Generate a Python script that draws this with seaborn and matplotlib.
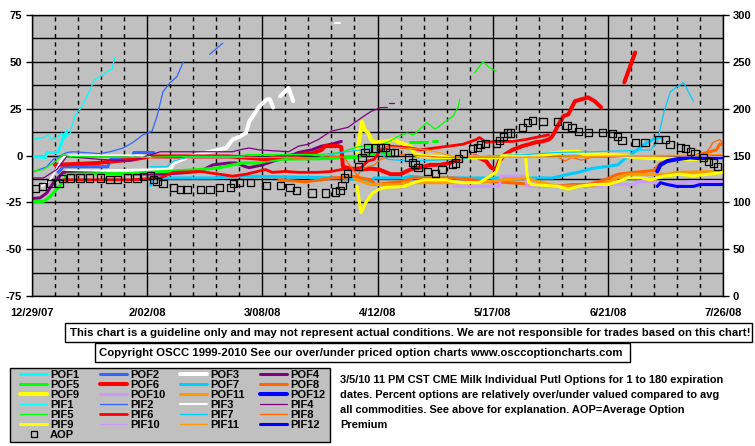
import numpy as np
import pandas as pd
import matplotlib
matplotlib.use("Agg")
import matplotlib.pyplot as plt
import seaborn as sns
from matplotlib.lines import Line2D
from matplotlib.patches import Rectangle

nan = float("nan")

# ---------------- data (x = days since 12/29/07, y = % over/under) ----------------
date_ticks = [0, 35, 70, 105, 140, 175, 210]
date_labels = ["12/29/07", "2/02/08", "3/08/08", "4/12/08", "5/17/08", "6/21/08", "7/26/08"]
left_ticks = [-75, -50, -25, 0, 25, 50, 75]
right_ticks = [0, 50, 100, 150, 200, 250, 300]

POF1_d = [0, 4, 4.6, 7.9, 9.4, 10.6]
POF1_v = [-0.5, -1, 1.6, 1.6, 9, 13]
PIF1_d = [0, 3.5, 5, 6, 8, 9, 10, 11.6, 13, 15.5, 17.6, 19, 20.7, 23, 24.3, 25.2]
PIF1_v = [8.5, 9.6, 11, 8.5, 10, 12, 9, 12, 21, 27, 35, 40.6, 42, 45, 46, 52.4]

POF2_d = [8, 9.5, 23, 24, 30, 31, 37]
POF2_v = [-9, -6, -6, -2, -2, 1.6, 1.6]
PIF2_d = [0, 4.5, 6.5, 10.6, 12.5, 20.7, 23.7, 27.7, 30.7, 33.7, 36.5, 38, 39.8, 42, 44, 46, nan, 54, 58]
PIF2_v = [-9, -6, -2, 1.6, 2, 1, 2, 4, 7, 11, 13, 21, 34, 39, 42, 50, nan, 54, 60]

POF3_d = [10.6, 20, 36, 42, 43, 47, 53, 59, 61, 63, 65, 66, 69, 71.4, 72.3, 73.3, nan, 75.4, 78, 79.4]
POF3_v = [-8.5, -8.5, -8, -7.5, -4, -1, 1.6, 4, 8.5, 10, 12, 18, 26, 30, 30, 25.6, nan, 31.6, 36, 29]
PIF3_d = [3, 5.5, 9.4, 11, 33, 36, nan, 92, 93.5]
PIF3_v = [-16.5, -13, -1, 0, 0, -1, nan, 70.5, 70.5]

POF4_d = [0, 2.5, 4.5, 6.5, 9.5, 20, 40, 51, 55, 60, 62, 65, 66, 70, 75, 78, 81, 85, 88, 91, 94]
POF4_v = [-23, -22.6, -20, -14.5, -9, -9.5, -10, -8.5, -5, -4, -4, -6, -6.5, -5, -2, -0.5, 1.6, 3, 5, 6, 7.5]
PIF4_d = [0, 3.5, 7.5, 10.6, 20, 30, 39, 50, 61, 63, 66, 69, 78, 81, 84, 87, 90, 91, 96, 100, 103, 106, 108, nan, 108.5, 110]
PIF4_v = [-12, -12, -7.5, -0.5, -2, -3, 2, 2, 2, 3, 4, 3, 2, 5, 6, 8.5, 12, 13, 15, 20, 23.5, 25.6, 25.6, nan, 27.8, 27.8]

POF5_d = [0, 3.5, 5.5, 7.5, 9.5, 10.6, 30, 51, 57, 61, 64, 69, 71, 76, 91, 95, 99, 102, 106, 108, 109, nan, 115, 120, nan, 122, 123]
POF5_v = [-24.5, -24.5, -22, -18, -14, -10, -9.5, -7.5, -6.5, -5, -4, -4, -3, -2, -1.6, -1, -1, 0.5, 1.6, 1, 0.5, nan, 7, 7, nan, 8, 8]
PIF5_d = [0, 3.5, 6.5, 9.5, 11.5, 34, 45, 64, 65, 87, 94, 96, 100, 104, 108, 111, 114, 116, 120, 122.5, 125.5, 128, 129.5, 130, nan, 134.5, 137, 139, 141]
PIF5_v = [-8.5, -7.5, -4, 0.5, -0.5, -1, -0.5, -0.5, 0.5, 0.5, 1.6, 3, 5, 5, 7, 10, 12, 11, 17.6, 14, 18, 21, 26, 30, nan, 44, 50, 47, 45]

POF6_d = [7, 20, 31, 36, 60, 64, 71, 76, 85, 88, 89, 93, 94, 94.5, 97, 100, 103, 105.5, 109, 112, 115, 118, 121, 124, 127, 131,
          135, 138, 139.5, 141, 142, 143.7, 146, 149, 151, 153, 155, 157, 158, 159, 160, 161.5, 163, 165, 167, 169, 171, 173, nan, 180, 183.3]
POF6_v = [-5, -4, -2, -0.5, -0.5, -1, -2, -0.5, 1, 3, 5, 5, 4.5, -6, -7, -7.5, -7, -7.5, -10, -10, -7.5, -6.5, -5, -5, -4, -1,
          -0.5, -3, -6.5, -7.5, -3, 0.5, 3, 5, 6, 7, 7.5, 8.5, 10, 13, 16.6, 21, 22, 29, 30, 31, 29, 25.6, nan, 39, 55]
PIF6_d = [9.5, 30, 39, 43, 51, 61, 65, 71, 73, 77, 81, 87, 91, 94, 100, 102, 104, 106, 109, 115, 118, 131, 135, 136, 138, 141, 146, 150, 154, 157]
PIF6_v = [-13, -13, -12, -9, -8.5, -11, -10, -7.5, -9, -8.5, -9, -9, -8.5, -7.5, -6.5, -3, -2, 3, 5, 4, 3, 6, 8.5, 9.6, 7, 7.5, 7.5, 8.5, 10, 11]

POF7_d = [36, 37, 55, 64, 94, 100, 103, 104, 113, 115, 120, 143, 158, 163, 166, 170, 174, 178, 180, 184, 187, 190, 191]
POF7_v = [-16, -12, -12, -11, -12, -13, -14, -12, -12, -11, -12, -12, -12, -10, -9, -7, -6, -5, -2, 3, 7, 9.6, 9.6]
PIF7_d = [36, 41, 43, 47, 87, 94, 104, 108, 115, 130, 135, 150, 159, 170, 180, 188, 189, 190, 192, 194, 198, 201]
PIF7_v = [-6, -6, -3, -1, -1, 1.6, 4, -2, -3, -2, -0.5, 0.5, 1.6, 2, 2.5, 3, 5, 7, 23, 34, 39, 29]

POF8_d = [75, 83, 88, 91, 96, 97, 100, 103, 104.3, 112, 116, 128, 140, 145, 153, 159, 164, 169, 174, 178, 183, 189, 191, 195, 201, 205, 208, 209, 210]
POF8_v = [-13, -14, -13, -12, -11.5, -11, -12, -13, -15.5, -14, -12, -12, -14, -14.5, -15.5, -16.5, -15.5, -15.5, -13, -10, -9, -8, -4, -2, -0.5, 1.6, 3, 6, 6]
PIF8_d = [78, 87, 92, 95, 96, 98, 99, 100, 102, 104, 106, 109, 113, 125, 150, 160, 162, 164, 167, 170, 180, 200, 205, 207, 209, 210]
PIF8_v = [-2, -1, -0.5, -1, -4, -8.5, -11, -7.5, -6, -5, -2, -0.5, 0.5, -1, -1, -1, -3, -1, -2.5, -1, -0.5, 0, 1.6, 7, 8.5, 6]

POF9_d = [98.8, 99.6, 100.3, 101, 102.2, 103, 104, 108, 110, 111, 113, 115, 116.5, 120, 130, 140, 145, 150, 153, 158, 162, 166, 168, 175, 178, 185, 190, 200, 207, 210]
POF9_v = [1.6, 10, 18, 14, 12, 8.5, 7, 7.5, 8.5, 7.5, 6, 5, 0.5, -0.5, -1, -1, 0, 0, -0.5, 1, 2, 2, 0.5, 0.5, 0, -1, -1.5, -2, -1.5, -1]
PIF9_d = [98.8, 100, 101.5, 103.5, 105.5, 107.5, 113, 116, 119, 126, 128, 131, 136, 141, 142, 142.7, 150, 150.5, 151, 152, 160, 163, 166,
          170.5, 175, 178, 181, 185, 188, 192, 197, 201, 210]
PIF9_v = [-16.5, -30.5, -25, -20, -18, -17, -16.5, -14.5, -13, -13, -14, -14.5, -14.5, -9, -4, -0.5, -0.5, -11, -14.5, -15.5, -16.5, -18, -16.5,
          -15.5, -15.5, -14, -12, -12, -13, -11, -10, -11, -9]

POF10_d = [128, 142, 142.5, 150, 150.5, 173, 175, 183, 184, 188, 190, 196, 200, 210]
POF10_v = [-16.5, -16.5, -11, -11, -16.5, -16.5, -15.5, -15.5, -14, -14, -15, -15, -14, -14]
PIF10_d = [145, 160, 175, 190, 210]
PIF10_v = [-1, -1, -0.5, 0, -0.5]

POF11_d = [98, 103, 112, 113, 135, 143, 150, 155, 160, 168, 172, 175, 178, 181, 193, 196, 210]
POF11_v = [-12.5, -15.5, -15.5, -14.5, -14.5, -13, -12, -14.5, -16.5, -16.5, -15.5, -14, -12, -10, -10, -9, -8.5]
PIF11_d = [104, 110, 120, 125, 128, 150, 170, 190, 210]
PIF11_v = [4, 4.5, 3, 1, -0.5, -1, -0.5, 0, 0.5]

POF12_d = [190, 191, 193, 196, 200, 203, 207, 210]
POF12_v = [-8.5, -5, -3, -2, -1, -1.5, -1, -1]
PIF12_d = [190, 191, 193, 196, 201, 203, 210]
PIF12_v = [-16.5, -14.5, -15.5, -16.5, -16.5, -15.5, -15.5]

# Average option premium (right axis)
AOP_d = [1.2, 3.3, 5.5, 8.2, 9.4, 11.6, 14.6, 17.6, 20.7, 23.7, 26.1, 28.9, 31.9, 34.0, 35.9, 36.8, 38.0, 39.8, 42.9, 45.0,
         47.1, 51.1, 54.1, 57.1, 60.2, 61.1, 63.2, 66.3, 71.4, 75.4, 78.4, 80.5, 85.1, 89.1, 92.1, 93.6, 94.2, 95.1, 96.0, 99.1,
         100.3, 101.2, 102.1, 104.3, 105.8, 107.3, 108.8, 110.3, 114.3, 115.5, 116.4, 117.3, 120.1, 122.5, 124.6, 127.7, 128.6,
         129.5, 131.0, 134.0, 135.3, 136.2, 137.7, 141.3, 142.2, 143.2, 144.4, 145.3, 149.2, 150.5, 152.0, 155.3, 159.6, 162.6,
         164.1, 166.0, 169.0, 173.3, 176.3, 177.8, 179.3, 183.3, 186.3, 190.3, 192.4, 193.9, 197.0, 198.5, 200.0, 201.5, 204.0,
         205.5, 207.0, 208.2]
AOP_v = [115, 117, 120, 120, 125, 126, 126, 126, 126, 124, 124, 126, 126, 128, 129, 124, 122, 120, 116, 114,
         114, 114, 114, 116, 116, 120, 121, 121, 118, 118, 116, 113, 110, 110, 111, 113, 118, 126, 131, 138,
         148, 153, 158, 158, 159, 159, 153, 153, 148, 143, 140, 137, 133, 131, 135, 140, 142, 147, 152, 157,
         159, 162, 163, 163, 166, 170, 174, 174, 180, 185, 187, 186, 186, 182, 180, 176, 175, 175, 173, 170,
         166, 164, 164, 167, 167, 162, 159, 157, 154, 152, 148, 144, 142, 138]

series_names = ["POF1", "POF2", "POF3", "POF4", "POF5", "POF6", "POF7", "POF8", "POF9", "POF10", "POF11", "POF12",
                "PIF1", "PIF2", "PIF3", "PIF4", "PIF5", "PIF6", "PIF7", "PIF8", "PIF9", "PIF10", "PIF11", "PIF12"]
series_data = {
    "POF1": (POF1_d, POF1_v), "POF2": (POF2_d, POF2_v), "POF3": (POF3_d, POF3_v), "POF4": (POF4_d, POF4_v),
    "POF5": (POF5_d, POF5_v), "POF6": (POF6_d, POF6_v), "POF7": (POF7_d, POF7_v), "POF8": (POF8_d, POF8_v),
    "POF9": (POF9_d, POF9_v), "POF10": (POF10_d, POF10_v), "POF11": (POF11_d, POF11_v), "POF12": (POF12_d, POF12_v),
    "PIF1": (PIF1_d, PIF1_v), "PIF2": (PIF2_d, PIF2_v), "PIF3": (PIF3_d, PIF3_v), "PIF4": (PIF4_d, PIF4_v),
    "PIF5": (PIF5_d, PIF5_v), "PIF6": (PIF6_d, PIF6_v), "PIF7": (PIF7_d, PIF7_v), "PIF8": (PIF8_d, PIF8_v),
    "PIF9": (PIF9_d, PIF9_v), "PIF10": (PIF10_d, PIF10_v), "PIF11": (PIF11_d, PIF11_v), "PIF12": (PIF12_d, PIF12_v),
}

# ---------------- styles ----------------
base_colors = {1: "#00FFFF", 2: "#3366FF", 3: "#FFFFFF", 4: "#800080", 5: "#00FF00", 6: "#FF0000",
               7: "#00CCFF", 8: "#FF6600", 9: "#FFFF00", 10: "#CC99FF", 11: "#FF9900", 12: "#0000FF"}
pof_lw = {1: 2.2, 2: 2.2, 3: 2.9, 4: 2.2, 5: 2.2, 6: 2.9, 7: 2.2, 8: 2.2, 9: 2.9, 10: 2.2, 11: 2.2, 12: 2.9}
pif_lw = {1: 0.9, 2: 0.9, 3: 1.5, 4: 0.9, 5: 0.9, 6: 2.0, 7: 0.9, 8: 0.9, 9: 2.2, 10: 0.9, 11: 0.9, 12: 2.2}


def style(name):
    k = int(name[3:])
    return base_colors[k], (pof_lw[k] if name.startswith("POF") else pif_lw[k])


W, H = 755, 446
sns.set_theme(style="white")
plt.rcParams["font.family"] = ["Liberation Sans", "DejaVu Sans"]
plt.rcParams["font.weight"] = "bold"
plt.rcParams["text.color"] = "black"

fig = plt.figure(figsize=(W / 100, H / 100), dpi=100)
fig.patch.set_facecolor("white")


def fx(px):
    return px / W


def fy(py):
    return 1 - py / H


ax = fig.add_axes([fx(32), fy(296), (723 - 32) / W, (296 - 15) / H])
ax.set_facecolor("#C0C0C0")
ax.set_axisbelow(True)

for name in series_names:
    d, v = series_data[name]
    color, lw = style(name)
    df = pd.DataFrame({"day": d, "val": v})
    seg = df["val"].isna().cumsum()
    ok = df["val"].notna()
    for _, g in df[ok].groupby(seg[ok]):
        if len(g) < 2:
            continue
        sns.lineplot(data=g, x="day", y="val", ax=ax, color=color, linewidth=lw,
                     estimator=None, sort=False, legend=False)

ax.set_xlim(0, 210)
ax.set_ylim(-75, 75)
ax.set_xticks(date_ticks)
ax.set_xticklabels(date_labels)
ax.set_xticks(np.arange(0, 211, 7), minor=True)
ax.set_yticks(left_ticks)
ax.set_yticklabels([str(t) for t in left_ticks])
ax.set_yticks(np.arange(-75, 76, 12.5), minor=True)
ax.grid(which="major", axis="x", color="black", lw=1.0, ls="-")
ax.grid(which="minor", axis="x", color="black", lw=1.0, ls=(0, (3, 3)))
ax.grid(which="both", axis="y", color="black", lw=1.0, ls="-")
ax.set_xlabel("")
ax.set_ylabel("")
ax.tick_params(axis="x", which="both", length=0, pad=9, labelsize=8, colors="black")
ax.tick_params(axis="y", which="major", length=4, width=1, pad=3, labelsize=8, colors="black", left=True)
ax.tick_params(axis="y", which="minor", length=0)
for sp in ax.spines.values():
    sp.set_color("black")
    sp.set_linewidth(1)

ax2 = ax.twinx()
sns.scatterplot(x=AOP_d, y=AOP_v, ax=ax2, marker="s", s=26, facecolor="none",
                edgecolor="black", linewidth=0.9, legend=False, zorder=5)
ax2.set_ylim(0, 300)
ax2.set_yticks(right_ticks)
ax2.set_yticklabels([str(t) for t in right_ticks])
ax2.grid(False)
ax2.tick_params(axis="y", length=4, width=1, pad=3, labelsize=8, colors="black", right=True)
for sp in ax2.spines.values():
    sp.set_visible(False)
ax.set_xlim(0, 210)


# ---------------- boxes and text ----------------
def box(x0, y0, x1, y1, fc="white"):
    fig.patches.append(Rectangle((fx(x0), fy(y1)), (x1 - x0) / W, (y1 - y0) / H,
                                 transform=fig.transFigure, facecolor=fc, edgecolor="black", lw=1))


box(65, 323, 752, 342)
box(95, 343, 630, 362)
box(10, 368, 330, 442, fc="#C0C0C0")

t1 = fig.text(fx(410), fy(332.5), "This chart is a guideline only and may not represent actual conditions. "
              "We are not responsible for trades based on this chart!", ha="center", va="center",
              fontsize=8, fontweight="bold", color="black")
t2 = fig.text(fx(361), fy(352.5), "Copyright OSCC 1999-2010 See our over/under priced option charts www.osccoptioncharts.com",
              ha="center", va="center", fontsize=8, fontweight="bold", color="black")
desc_lines = ["3/5/10 11 PM CST CME Milk Individual Putl Options for 1 to 180 expiration",
              "dates. Percent options are relatively over/under valued compared to avg",
              "all commodities. See above for explanation. AOP=Average Option",
              "Premium"]
desc = [fig.text(fx(340), fy(380 + 15 * i), s, ha="left", va="center", fontsize=8, fontweight="bold", color="black")
        for i, s in enumerate(desc_lines)]

fig.canvas.draw()
r = fig.canvas.get_renderer()


def fit(t, target):
    w = t.get_window_extent(renderer=r).width
    t.set_fontsize(t.get_fontsize() * target / w)


fit(t1, 680)
fit(t2, 524)
fit(desc[0], 382)
for t in desc[1:]:
    t.set_fontsize(desc[0].get_fontsize())

# ---------------- legend: four columns ----------------
cols = [["POF1", "POF5", "POF9", "PIF1", "PIF5", "PIF9", "AOP"],
        ["POF2", "POF6", "POF10", "PIF2", "PIF6", "PIF10"],
        ["POF3", "POF7", "POF11", "PIF3", "PIF7", "PIF11"],
        ["POF4", "POF8", "POF12", "PIF4", "PIF8", "PIF12"]]
col_x = [20, 100, 180, 260]
leg_fs = 8.0
fs_px = leg_fs * 100 / 72


def make_handles(names):
    hs = []
    for n in names:
        if n == "AOP":
            hs.append(Line2D([], [], ls="none", marker="s", ms=5, mfc="none", mec="black", mew=0.9))
        else:
            c, lw = style(n)
            hs.append(Line2D([], [], color=c, lw=lw))
    return hs


def make_legend(cx, names, ls):
    lg = fig.legend(make_handles(names), names, loc="upper left", bbox_to_anchor=(fx(cx), fy(370)),
                    frameon=False, borderpad=0, borderaxespad=0, handlelength=27 / fs_px,
                    handletextpad=3 / fs_px, labelspacing=ls,
                    prop={"weight": "bold", "size": leg_fs})
    for t in lg.get_texts():
        t.set_color("black")
    return lg


# measure natural row pitch, then set spacing for a 10 px pitch
probe = make_legend(col_x[0], cols[0], 0.0)
fig.canvas.draw()
r = fig.canvas.get_renderer()
tx = probe.get_texts()
pitch = (tx[0].get_window_extent(renderer=r).y0 - tx[-1].get_window_extent(renderer=r).y0) / (len(tx) - 1)
probe.remove()
new_ls = (10.0 - pitch) / fs_px

for cx, names in zip(col_x, cols):
    make_legend(cx, names, new_ls)

fig.savefig("out.png", dpi=100, facecolor="white")
